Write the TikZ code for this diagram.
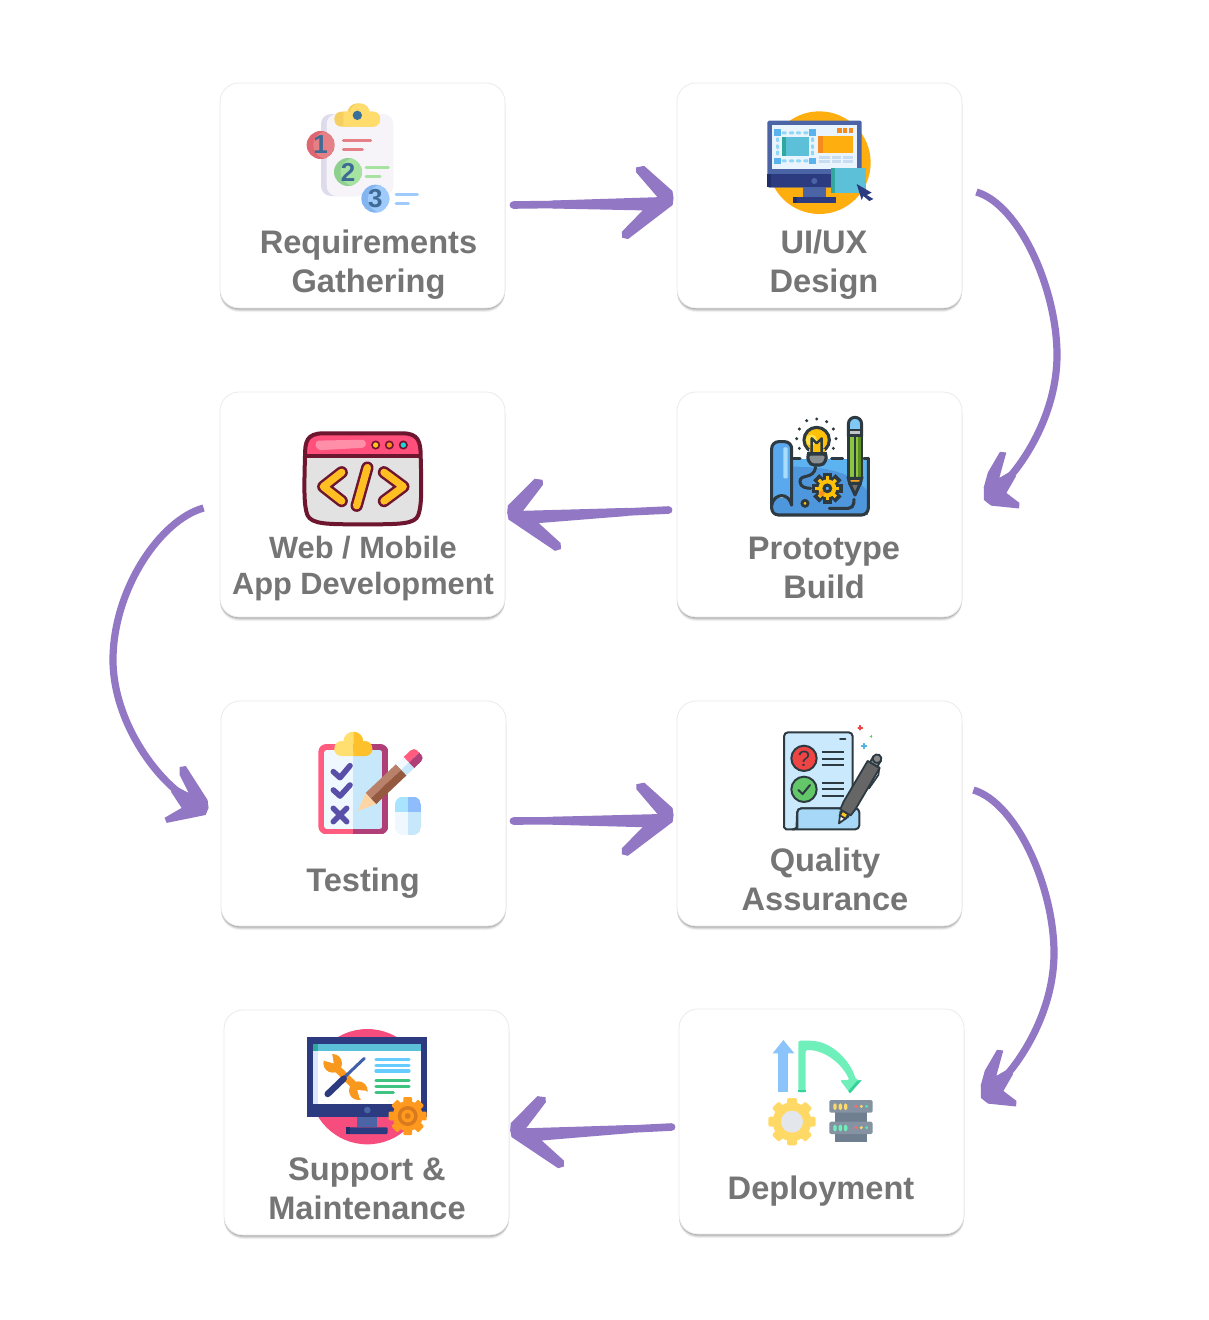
\documentclass[tikz,border=0pt]{standalone}
\usepackage{fontspec}
\setmainfont{Liberation Sans}
\usetikzlibrary{arrows.meta,calc}
\definecolor{flowc}{HTML}{9277C4}
\definecolor{labc}{HTML}{757575}
\definecolor{ink}{HTML}{2D3A42}
\definecolor{navy}{HTML}{2C3B7F}
\definecolor{navyd}{HTML}{1F2D68}
\definecolor{steel}{HTML}{4A64A6}
\definecolor{cyanb}{HTML}{5BC0D8}
\definecolor{teal2}{HTML}{2FA8A0}
\definecolor{amber}{HTML}{FFAE0F}
\definecolor{orng}{HTML}{F58A1F}
\definecolor{pinkb}{HTML}{FF5C80}
\definecolor{plum}{HTML}{B03F78}
\definecolor{maroon2}{HTML}{6E1530}
\definecolor{chevy}{HTML}{FFBE22}
\definecolor{digc}{HTML}{3D6B95}
\newcommand\Pp[2]{\pgfqpoint{#1pt}{#2pt}}
\pgfdeclarearrow{
  name=HeadS,
  cache=false,
  setup code={\pgfarrowssettipend{0pt}\pgfarrowssetlineend{-20pt}\pgfarrowssetbackend{-50pt}\pgfarrowssetvisualtipend{0pt}\pgfarrowssetvisualbackend{-20pt}},
  drawing code={
    \pgfsetcornersarced{\Pp{2.5}{2.5}}
    \pgfpathmoveto{\Pp{-28}{37.5}}
    \pgfpathlineto{\Pp{0}{12}}
    \pgfpathlineto{\Pp{1}{5}}
    \pgfpathlineto{\Pp{0}{-2}}
    \pgfpathlineto{\Pp{-45}{-35.5}}
    \pgfpathlineto{\Pp{-51}{-34}}
    \pgfpathlineto{\Pp{-51}{-28}}
    \pgfpathlineto{\Pp{-30}{-7}}
    \pgfpathlineto{\Pp{-120}{-4}}
    \pgfpathlineto{\Pp{-120}{4}}
    \pgfpathlineto{\Pp{-15}{6}}
    \pgfpathlineto{\Pp{-36}{31}}
    \pgfpathlineto{\Pp{-36}{36}}
    \pgfpathclose
    \pgfusepathqfill
  }
}
\pgfdeclarearrow{
  name=HeadC,
  cache=false,
  setup code={\pgfarrowssettipend{0pt}\pgfarrowssetlineend{-15pt}\pgfarrowssetbackend{-40pt}\pgfarrowssetvisualtipend{0pt}\pgfarrowssetvisualbackend{-15pt}},
  drawing code={
    \pgfsetcornersarced{\Pp{2.2}{2.2}}
    \pgfpathmoveto{\Pp{-36}{-25}}
    \pgfpathlineto{\Pp{-40}{-20}}
    \pgfpathlineto{\Pp{-17}{-7.1}}
    \pgfpathlineto{\Pp{-30}{-3.6}}
    \pgfpathlineto{\Pp{-30}{3.6}}
    \pgfpathlineto{\Pp{-11.3}{8.5}}
    \pgfpathlineto{\Pp{-13.4}{24.7}}
    \pgfpathlineto{\Pp{-9.2}{28.5}}
    \pgfpathlineto{\Pp{8.5}{6.5}}
    \pgfpathlineto{\Pp{9.5}{-2.5}}
    \pgfpathlineto{\Pp{.7}{-11.5}}
    \pgfpathlineto{\Pp{-12.7}{-19}}
    \pgfpathclose
    \pgfusepathqfill
  }
}
\pgfdeclarearrow{
  name=HeadL,
  cache=false,
  setup code={\pgfarrowssettipend{0pt}\pgfarrowssetlineend{-15pt}\pgfarrowssetbackend{-40pt}\pgfarrowssetvisualtipend{0pt}\pgfarrowssetvisualbackend{-15pt}},
  drawing code={
    \pgfsetcornersarced{\Pp{2.2}{2.2}}
    \pgfpathmoveto{\Pp{-37}{21.7}}
    \pgfpathlineto{\Pp{-32.6}{26}}
    \pgfpathlineto{\Pp{4.8}{10.6}}
    \pgfpathlineto{\Pp{10.1}{4.7}}
    \pgfpathlineto{\Pp{11.7}{-2.8}}
    \pgfpathlineto{\Pp{-15.7}{-31.6}}
    \pgfpathlineto{\Pp{-20.3}{-28.6}}
    \pgfpathlineto{\Pp{-12}{-10.7}}
    \pgfpathlineto{\Pp{-30}{-3.6}}
    \pgfpathlineto{\Pp{-30}{3.6}}
    \pgfpathlineto{\Pp{-14.8}{5.6}}
    \pgfpathlineto{\Pp{-32.5}{15.1}}
    \pgfpathclose
    \pgfusepathqfill
  }
}
\tikzset{
  HTML/.code={\definecolor{tmpc}{HTML}{#1}\pgfkeysalso{color=tmpc}},
  HF/.code={\definecolor{tmpf}{HTML}{#1}\pgfkeysalso{fill=tmpf}},
  card/.style={draw=black!8,line width=0.8pt,fill=white,rounded corners=19pt,minimum width=285pt,minimum height=225pt,inner sep=0pt,
    preaction={fill=black,opacity=.05,transform canvas={yshift=-4pt}},
    preaction={fill=black,opacity=.08,transform canvas={yshift=-3pt}},
    preaction={fill=black,opacity=.11,transform canvas={yshift=-2pt}},
    preaction={fill=black,opacity=.14,transform canvas={yshift=-1pt}}},
  lab/.style={align=center,text=labc,inner sep=0pt,font=\bfseries\fontsize{32.6}{39}\selectfont},
  flow/.style={draw=flowc,line width=7.6pt,line cap=round,fill=none},
  flowc2/.style={draw=flowc,line width=7.2pt,line cap=butt,fill=none},
  zoomed/.style={x=0.33333pt,y=-0.33333pt},
  bar/.style={line width=#1,line cap=round,line join=round},
  digit/.style={inner sep=0pt,text=digc,font=\bfseries\fontsize{26}{26}\selectfont},
}
\newcommand\GearTeeth[6]{% x,y,R,n,toothwidth,style
  \foreach \a in {1,...,#4}{%
    \path[#6,rotate around={360*\a/#4:(#1,#2)}] ({#1-#5/2},{#2-#3}) rectangle ({#1+#5/2},{#2});
  }%
}
\newcommand\NumDisc[6]{% x,y,dark,light,digit,name
  \begin{scope}
    \clip (#1,#2) circle (42);
    \fill[#3] (#1,#2) circle (42);
    \fill[#4] ({#1+20},#2) circle (42);
  \end{scope}
  \node[digit] (#6) at (#1,#2) {#5};
}
\begin{document}
\begin{tikzpicture}[x=1pt,y=-1pt]
\useasboundingbox (0,0) rectangle (1209,1320);
\fill[white] (0,0) rectangle (1209,1320);

% cards
\node[card] (c1) at (362.5,195.5) {};
\node[card] (c2) at (819.5,195.5) {};
\node[card] (c3) at (819.5,504.5) {};
\node[card] (c4) at (362.5,504.5) {};
\node[card] (c5) at (363.5,813.5) {};
\node[card] (c6) at (819.5,813.5) {};
\node[card] (c7) at (821.5,1121.5) {};
\node[card] (c8) at (366.5,1122.5) {};

% labels
\node[lab] (l1) at (368.5,264.5) {Requirements\\Gathering};
\node[lab] (l2) at (824,264.5) {UI/UX\\Design};
\node[lab] (l3) at (824,567.5) {Prototype\\Build};
\node[lab,font=\bfseries\fontsize{30.8}{36}\selectfont] (l4) at (363,568.5) {Web / Mobile\\App Development};
\node[lab] (l5) at (363,883) {Testing};
\node[lab] (l6) at (825,879.5) {Quality\\Assurance};
\node[lab] (l7) at (821,1191) {Deployment};
\node[lab] (l8) at (367,1188.5) {Support \&\\Maintenance};

% connectors
\draw[flow,-{HeadS}] ([shift={(8,9.5)}]c1.east) -- ([shift={(-4,7.5)}]c2.west);
\draw[flow,-{HeadS[swap]}] ([shift={(-8,5.5)}]c3.west) -- ([shift={(3,13)}]c4.east);
\draw[flow,-{HeadS}] ([shift={(7,7.5)}]c5.east) -- ([shift={(-4,6.5)}]c6.west);
\draw[flow,-{HeadS[swap]}] ([shift={(-7,5.5)}]c7.west) -- ([shift={(2,12.5)}]c8.east);
\draw[flowc2,-{HeadC}] ([shift={(14,-3.5)}]c2.east) .. controls (1020,205) and (1057,290) .. (1057,355) .. controls (1057,410) and (1027,460) .. ([shift={(30,-9.5)}]c3.east);
\draw[flowc2,-{HeadL}] ([shift={(-16,3.5)}]c4.west) .. controls (160,520) and (113,590) .. (113,660) .. controls (113,715) and (149,772) .. ([shift={(-23,-7.5)}]c5.west);
\draw[flowc2,-{HeadC}] ([shift={(11,-23.5)}]c6.east) .. controls (1017,803) and (1054,888) .. (1054,953) .. controls (1054,1008) and (1024,1058) .. ([shift={(25,-28.5)}]c7.east);

% ---------- icon 1: requirements
\begin{scope}[shift={(280,90)},zoomed]
  \fill[HTML=DDDBEC,rounded corners=10pt] (123,72) rectangle (260,318);
  \fill[HTML=F6F4F9,rounded corners=10pt] (140,72) rectangle (340,318);
  \fill[HTML=F6CF63] (232,70) circle (30);
  \fill[HTML=F6CF63,rounded corners=7pt] (163,65) rectangle (300,110);
  \begin{scope}
    \clip (190,30) rectangle (310,120);
    \fill[HTML=FFDC6B] (240,70) circle (30);
    \fill[HTML=FFDC6B,rounded corners=7pt] (165,65) rectangle (300,110);
  \end{scope}
  \fill[HTML=3B6F9B] (232,76) circle (14);
  \draw[bar=3pt,HTML=E58086] (190,152) -- (272,152) (190,177) -- (247,177);
  \draw[bar=3pt,HTML=A6E3A1] (258,233) -- (325,233) (258,258) -- (300,258);
  \draw[bar=3pt,HTML=9ECBFB] (348,314) -- (412,314) (348,339) -- (385,339);
  \NumDisc{122}{165}{HTML=DD6670}{HTML=E58086}{1}{n1}
  \NumDisc{204}{246}{HTML=8ED08E}{HTML=A6E3A1}{2}{n2}
  \NumDisc{286}{326}{HTML=83B6F0}{HTML=9ECBFB}{3}{n3}
\end{scope}

% ---------- icon 2: UI/UX
\begin{scope}[shift={(750,100)},zoomed]
  \fill[amber] (208,188) circle (154);
  \fill[steel,rounded corners=1.5pt] (52,62) rectangle (335,262);
  \fill[navy,rounded corners=1.5pt] (52,222) rectangle (335,262);
  \fill[navyd] (52,222) rectangle (64,262);
  \fill[HTML=EAF4FD] (65,76) rectangle (322,208);
  \fill[steel] (160,262) rectangle (227,292);
  \fill[navy] (128,292) rectangle (258,309);
  \fill[navyd] (128,292) rectangle (140,309);
  \fill[steel] (193,243) circle (9);
  \fill[cyanb] (95,110) rectangle (177,168);
  \fill[teal2] (95,110) rectangle (107,168);
  \foreach \p in {(73,87),(177,87),(73,173),(177,173)} {\fill[HTML=5BB3EE] \p rectangle +(20,20);}
  \foreach \q in {95,117,138,160} {
    \fill[HTML=8FD6F7,rounded corners=1pt] (\q,94) rectangle +(15,9);
    \fill[HTML=8FD6F7,rounded corners=1pt] (\q,178) rectangle +(15,9);
  }
  \foreach \q in {112,133,152} {
    \fill[HTML=8FD6F7,rounded corners=1pt] (78,\q) rectangle +(9,14);
    \fill[HTML=8FD6F7,rounded corners=1pt] (183,\q) rectangle +(9,14);
  }
  \fill[amber] (205,107) rectangle (310,158);
  \fill[orng] (205,107) rectangle (218,158);
  \foreach \q in {262,279,296} {\fill[orng] (\q,85) rectangle +(13,14);}
  \foreach \r in {167,180} {
    \fill[HTML=C6DCF0] (206,\r) rectangle (240,{\r+10});
    \fill[HTML=C6DCF0] (246,\r) rectangle (274,{\r+10});
    \fill[HTML=C6DCF0] (278,\r) rectangle (310,{\r+10});
  }
  \fill[cyanb] (243,203) rectangle (347,280);
  \fill[teal2] (243,203) rectangle (256,280);
  \fill[navy] (320,252) -- (365,278) -- (350,285) -- (370,297) -- (358,303) -- (340,288) -- (335,300) -- cycle;
\end{scope}

% ---------- icon 3: prototype
\begin{scope}[shift={(750,410)},zoomed]
  \fill[HTML=4F97DC] (100,148) rectangle (355,315);
  \fill[HTML=5DB2F0] (125,148) -- (355,148) -- (355,245) .. controls (300,175) and (200,170) .. (125,170) -- cycle;
  \fill[HTML=4F97DC] (65,285) .. controls (70,310) and (85,315) .. (105,315) -- (125,290) .. controls (110,260) and (80,250) .. (65,285) -- cycle;
  \fill[HTML=5AA9EE,rounded corners=8pt] (65,285) -- (65,95) -- (125,95) -- (125,288) .. controls (105,250) and (80,250) .. (65,285) -- cycle;
  \fill[HTML=A7DCFA,rounded corners=1pt] (100,112) rectangle (113,205);
  \draw[ink,line width=3.1pt,line cap=round,line join=round,rounded corners=7pt] (125,285) -- (125,95) -- (65,95) -- (65,285);
  \draw[ink,line width=3.1pt,line cap=round,line join=round] (65,285) .. controls (72,250) and (115,245) .. (125,285);
  \draw[ink,line width=3.1pt,line cap=round,line join=round,rounded corners=7pt] (65,285) -- (65,315) -- (355,315) -- (355,145);
  \draw[ink,line width=3.1pt,line cap=round] (125,146) -- (150,146) (245,146) -- (278,146) (342,146) -- (355,146);
  % bulb
  \draw[ink,line width=3pt,line cap=round] (197,172) .. controls (190,210) and (150,190) .. (150,215) .. controls (150,232) and (170,235) .. (182,235);
  \fill[HTML=FFC107,draw=ink,line width=3.1pt] (200,90) circle (38);
  \fill[HTML=FFE14D] (184,90) circle (17);
  \fill[HTML=8A8F92,draw=ink,line width=3.1pt,rounded corners=4pt] (170,132) -- (232,132) -- (222,165) -- (180,165) -- cycle;
  \fill[HTML=FFC107] (178,118) rectangle (224,130);
  \draw[ink,line width=2.4pt,line join=round] (185,128) -- (185,85) -- (200,100) -- (215,85) -- (215,128);
  \draw[ink,line width=3.1pt] (172,130) -- (230,130);
  \foreach \p in {(170,32),(200,27),(230,35),(250,57),(258,86),(250,115),(148,57),(140,86),(148,115)} {\fill[ink] \p circle (5);}
  % gear
  \GearTeeth{232}{235}{43}{8}{17}{fill=ink,draw=ink,line width=3pt}
  \fill[ink] (232,235) circle (34);
  \GearTeeth{232}{235}{36}{8}{10}{HF=FFC107}
  \fill[HTML=FFC107] (232,235) circle (27);
  \fill[HTML=F7941E] (215,250) circle (9);
  \fill[HTML=5DB2F0,draw=ink,line width=3pt] (232,235) circle (10);
  \fill[HTML=FFC107,draw=ink,line width=2.8pt] (165,280) circle (9);
  \draw[ink,line width=3.1pt,line cap=round,rounded corners=5pt] (238,295) -- (310,295) -- (312,268);
  % pencil
  \fill[HTML=8CC63F,draw=ink,line width=3pt] (295,75) rectangle (335,205);
  \fill[HTML=5B8F1E] (323,75) rectangle (333,203);
  \draw[ink,line width=2.4pt] (315,78) -- (315,203);
  \fill[HTML=7FC8F5,draw=ink,line width=3pt] (295,75) -- (295,43) .. controls (295,15) and (335,15) .. (335,43) -- (335,75) -- cycle;
  \fill[HTML=BFC5C8,draw=ink,line width=2.6pt] (295,60) rectangle (335,76);
  \fill[HTML=F6A623,draw=ink,line width=3pt] (295,205) -- (335,205) -- (331,220) -- (299,220) -- cycle;
  \fill[HTML=707070,draw=ink,line width=3pt,line join=round] (299,220) -- (331,220) -- (315,255) -- cycle;
\end{scope}

% ---------- icon 4: browser
\begin{scope}[shift={(290,425)},zoomed]
  \fill[HTML=E2E2E2] (45,93) -- (392,93) .. controls (395,200) and (395,240) .. (385,270) .. controls (375,298) and (330,298) .. (218,298) .. controls (110,298) and (65,298) .. (52,270) .. controls (42,240) and (42,200) .. (45,93) -- cycle;
  \fill[HTML=FF4F7A] (45,93) .. controls (45,50) and (50,25) .. (100,25) -- (338,25) .. controls (385,25) and (392,50) .. (392,93) -- cycle;
  \fill[HTML=FF8FA8,rounded corners=4pt] (75,47) -- (228,44) -- (228,68) -- (80,76) -- cycle;
  \draw[maroon2,line width=4pt,line join=round] (45,93) .. controls (45,50) and (50,25) .. (100,25) -- (338,25) .. controls (385,25) and (392,50) .. (392,93) .. controls (395,200) and (395,240) .. (385,270) .. controls (375,298) and (330,298) .. (218,298) .. controls (110,298) and (65,298) .. (52,270) .. controls (42,240) and (42,200) .. (45,93) -- cycle;
  \draw[maroon2,line width=3.2pt] (45,93) -- (392,93);
  \fill[HTML=FFC51D,draw=maroon2,line width=1.6pt] (257,60) circle (11);
  \fill[HTML=FF8C1A,draw=maroon2,line width=1.6pt] (298,60) circle (11);
  \fill[HTML=15D8D8,draw=maroon2,line width=1.6pt] (340,60) circle (11);
  \foreach \wid/\col in {12.4pt/maroon2,7.4pt/chevy} {
    \draw[draw=\col,line width=\wid,line cap=round,line join=round] (155,142) -- (100,185) -- (155,228);
    \draw[draw=\col,line width=\wid,line cap=round,line join=round] (282,142) -- (340,185) -- (282,228);
    \draw[draw=\col,line width=\wid,line cap=round] (232,128) -- (200,242);
  }
\end{scope}

% ---------- icon 5: testing
\begin{scope}[shift={(305,725)},zoomed]
  \begin{scope}
    \clip[rounded corners=8pt] (40,57) rectangle (250,328);
    \fill[pinkb] (40,57) rectangle (145,328);
    \fill[plum] (145,57) rectangle (250,328);
  \end{scope}
  \begin{scope}
    \clip[rounded corners=3pt] (57,75) rectangle (232,312);
    \fill[HTML=F0F8FF] (57,75) rectangle (145,312);
    \fill[HTML=C7E8FB] (145,75) rectangle (232,312);
  \end{scope}
  \begin{scope}
    \clip (80,10) rectangle (145,100);
    \fill[HTML=FFDF70] (145,50) circle (30);
    \fill[HTML=FFDF70,rounded corners=7pt] (88,58) rectangle (202,93);
    \fill[HTML=FFDF70] (110,70) circle (22);
  \end{scope}
  \begin{scope}
    \clip (145,10) rectangle (210,100);
    \fill[HTML=FFC12B] (145,50) circle (30);
    \fill[HTML=FFC12B,rounded corners=7pt] (88,58) rectangle (202,93);
    \fill[HTML=FFC12B] (180,70) circle (22);
  \end{scope}
  \draw[HTML=5A4FA8,bar=5.6pt] (85,140) -- (105,158) -- (135,122);
  \draw[HTML=5A4FA8,bar=5.6pt] (85,195) -- (105,213) -- (135,180);
  \draw[HTML=5A4FA8,bar=5.6pt] (85,250) -- (125,290) (125,250) -- (85,290);
  \begin{scope}[shift={(158,258)},rotate=43.4]
    \fill[HTML=FDD5A5,rounded corners=1pt] (0,0) -- (55,-23) -- (55,23) -- cycle;
    \fill[HTML=B9806A] (55,-23) rectangle (180,0);
    \fill[HTML=95593F] (55,0) rectangle (180,23);
    \fill[HTML=F2F9FF] (180,-23) rectangle (212,0);
    \fill[HTML=C7E8FB] (180,0) rectangle (212,23);
    \begin{scope}
      \clip[rounded corners=5pt] (190,-23) rectangle (255,23);
      \fill[pinkb] (212,-23) rectangle (255,0);
      \fill[plum] (212,0) rectangle (255,23);
    \end{scope}
  \end{scope}
  \begin{scope}
    \clip[rounded corners=8pt] (270,215) rectangle (348,330);
    \fill[HTML=A8E4FD] (270,215) rectangle (309,262);
    \fill[HTML=8FBCFA] (309,215) rectangle (348,262);
    \fill[HTML=F0F8FF] (270,262) rectangle (309,330);
    \fill[HTML=C7E8FB] (309,262) rectangle (348,330);
  \end{scope}
\end{scope}

% ---------- icon 6: QA
\begin{scope}[shift={(770,720)},zoomed]
  \fill[HTML=CBE9FD,draw=ink,line width=2pt,line join=round,rounded corners=4pt] (80,310) .. controls (80,325) and (70,328) .. (60,328) .. controls (50,328) and (42,322) .. (42,310) -- (42,37) -- (248,37) -- (248,265) -- (82,265) -- cycle;
  \fill[HTML=A8D8F7,draw=ink,line width=2pt,line join=round,rounded corners=4pt] (82,265) -- (268,265) -- (268,328) -- (60,328) .. controls (75,328) and (82,322) .. (82,310) -- cycle;
  \draw[ink,line width=2pt,line cap=round] (210,57) -- (226,57);
  \fill[HTML=EF4444,draw=ink,line width=2pt] (102,115) circle (38);
  \fill[HTML=63C76A,draw=ink,line width=2pt] (102,208) circle (38);
  \node[inner sep=0pt,text=ink,font=\fontsize{22}{22}\selectfont] (qm) at (102,115) {?};
  \draw[ink,line width=2pt,line cap=round,line join=round] (85,210) -- (98,222) -- (120,195);
  \foreach \q in {97,116,134,190,208,227} {\draw[ink,line width=1.8pt] (155,\q) -- (222,\q);}
  \draw[ink,line width=1.8pt,line cap=round] (328,142) -- (325,165) -- (297,205);
  \begin{scope}[shift={(207,310)},rotate=59.5]
    \fill[HTML=FFFFFF,draw=ink,line width=1.8pt,line join=round] (0,0) -- (32,-14) -- (32,14) -- cycle;
    \fill[HTML=FFC91F,draw=ink,line width=1.8pt] (22,-10) rectangle (38,10);
    \fill[HTML=666666,draw=ink,line width=1.8pt,line join=round] (38,-18) -- (62,-21) -- (205,-21) -- (205,21) -- (62,21) -- (38,18) -- cycle;
    \fill[HTML=888888,draw=ink,line width=1.8pt] (205,-13) rectangle (225,13);
    \fill[HTML=888888,draw=ink,line width=1.8pt] (225,0) circle (13);
  \end{scope}
  \draw[HTML=EF4444,bar=1.7pt] (271,17) -- (271,29) (265,23) -- (277,23);
  \draw[HTML=5BD06A,bar=0.9pt] (303,46) -- (303,52) (300,49) -- (306,49);
  \draw[HTML=4FB3E8,bar=1.7pt] (282,71) -- (282,85) (275,78) -- (289,78);
\end{scope}

% ---------- icon 7: deployment
\begin{scope}[shift={(760,1030)},zoomed]
  \fill[HTML=8AC4FB] (55,70) rectangle (85,187);
  \fill[HTML=8AC4FB] (38,70) -- (70,30) -- (103,70) -- cycle;
  \fill[HTML=6FF0BB,rounded corners=2pt] (115,187) -- (115,32) -- (150,32) .. controls (215,35) and (270,90) .. (288,150) -- (305,150) -- (270,190) -- (240,150) -- (268,150) .. controls (245,100) and (195,62) .. (143,60) -- (137,60) -- (137,187) -- cycle;
  \fill[HTML=35D29A] (115,181) rectangle (137,187);
  \fill[HTML=35D29A] (305,150) -- (270,190) -- (265,183) -- (292,152) -- cycle;
  \GearTeeth{96}{275}{71}{8}{30}{HF=FFD966,rounded corners=2pt}
  \fill[HTML=FFD966] (96,275) circle (58);
  \fill[HTML=E3E7EC] (96,275) circle (33);
  \fill[HTML=6F7F90] (225,245) rectangle (322,336);
  \fill[HTML=8492A1,rounded corners=1.5pt] (208,210) rectangle (338,248);
  \fill[HTML=8492A1,rounded corners=1.5pt] (208,275) rectangle (338,312);
  \foreach \q in {220,236,252} {
    \fill[HTML=FFD966,rounded corners=1.5pt] (\q,220) rectangle +(10,20);
    \fill[HTML=6FF0BB,rounded corners=1.5pt] (\q,284) rectangle +(10,20);
  }
  \foreach \r in {229,293} {
    \fill[HTML=FF6B6B] (288,\r) circle (5);
    \fill[HTML=FFD966] (304,\r) circle (5);
    \fill[HTML=5FE0B0] (320,\r) circle (5);
  }
\end{scope}

% ---------- icon 8: support
\begin{scope}[shift={(295,1020)},zoomed]
  \fill[HTML=F74D7E] (217,200) circle (173);
  \fill[navy] (37,52) rectangle (395,290);
  \fill[white] (53,72) rectangle (378,252);
  \fill[HTML=DBE8FB] (53,92) rectangle (70,252);
  \fill[cyanb] (53,72) rectangle (378,92);
  \fill[teal2] (53,72) rectangle (68,92);
  \fill[steel] (185,290) rectangle (245,322);
  \fill[navy,rounded corners=1pt] (153,322) rectangle (278,342);
  \fill[navyd] (153,322) rectangle (165,342);
  \fill[steel] (217,270) circle (10);
  % wrench
  \draw[HTML=F8981D,line width=7.4pt] (112,132) -- (192,210);
  \fill[HTML=F8981D] (113,130) circle (28);
  \fill[HTML=F8981D] (190,212) circle (28);
  \fill[white] (116,130) -- (112,104) -- (104,94) -- (78,112) -- (90,123) -- cycle;
  \fill[white] (187,210) -- (193,232) -- (203,242) -- (224,222) -- (213,212) -- cycle;
  % screwdriver
  \draw[HTML=3F60A8,line width=3pt,line cap=round] (208,115) -- (148,172);
  \draw[navy,line width=6.4pt,line cap=round] (146,176) -- (98,222);
  \draw[HTML=66CCFF,bar=3.2pt] (243,118) -- (342,118) (243,136) -- (342,136) (243,153) -- (342,153);
  \draw[HTML=3FC380,bar=3.2pt] (243,182) -- (342,182) (243,199) -- (342,199) (243,217) -- (295,217);
  % gear
  \GearTeeth{338}{288}{57}{8}{26}{HF=FF9A1F,rounded corners=1pt}
  \fill[HTML=FF9A1F] (338,288) circle (45);
  \fill[HTML=D97A1E] (338,288) circle (30);
  \fill[HTML=FF9A1F] (338,288) circle (19);
  \fill[HTML=D97A1E] (338,288) circle (9);
\end{scope}
\end{tikzpicture}
\end{document}
